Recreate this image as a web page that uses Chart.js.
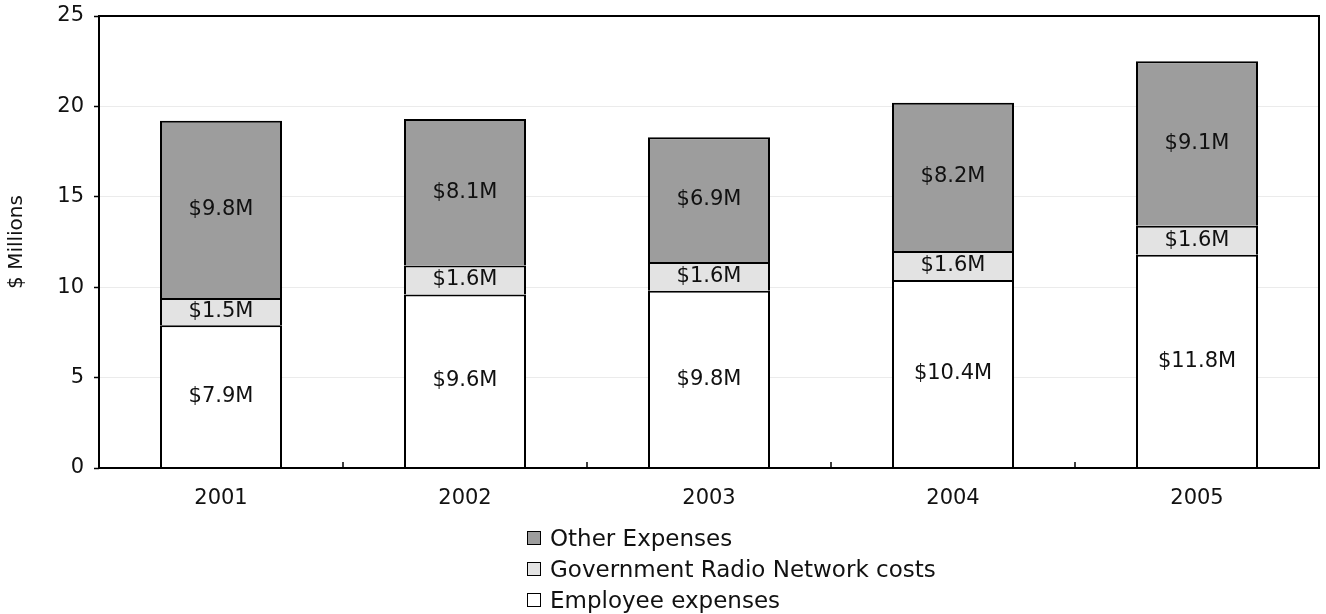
<!DOCTYPE html>
<html>
<head>
<meta charset="utf-8">
<script src="https://cdn.jsdelivr.net/npm/chart.js@4/dist/chart.umd.min.js"></script>
<style>
    body { margin: 0; background: #fff; }
    #wrap { position: relative; width: 1326px; height: 614px; }
    #legend {
        position: absolute; left: 527px; top: 522px;
        font-family: "DejaVu Sans", Verdana, sans-serif; font-size: 23px; color: #111;
    }
    .item { display: flex; align-items: center; height: 31px; }
    .box { width: 12px; height: 12px; border: 1.5px solid #000; margin-right: 9px; }
</style>
</head>
<body>
<div id="wrap">
    <canvas id="costs"></canvas>
    <div id="legend"></div>
</div>
<script>
// Expense breakdown per year, $ millions
const years = ['2001', '2002', '2003', '2004', '2005'];
const employeeExpenses = [7.9, 9.6, 9.8, 10.4, 11.8];
const radioNetworkCosts = [1.5, 1.6, 1.6, 1.6, 1.6];
const otherExpenses = [9.8, 8.1, 6.9, 8.2, 9.1];
const yMax = 25;
const yStep = 5;

const FONT = '"DejaVu Sans", Verdana, sans-serif';

// Box around the plot area plus inward ticks between categories
const framePlugin = {
    id: 'frame',
    afterDatasetsDraw(chart) {
        const { ctx, chartArea: a, scales: { x } } = chart;
        ctx.save();
        ctx.strokeStyle = '#000';
        ctx.lineWidth = 2;
        ctx.strokeRect(a.left, a.top, a.right - a.left, a.bottom - a.top);
        ctx.lineWidth = 1.5;
        ctx.beginPath();
        for (let i = 0; i < years.length - 1; i++) {
            const bx = (x.getPixelForValue(i) + x.getPixelForValue(i + 1)) / 2;
            ctx.moveTo(bx, a.bottom);
            ctx.lineTo(bx, a.bottom - 6);
        }
        ctx.stroke();
        ctx.restore();
    }
};

// Value label in the middle of each stacked segment
const segmentLabels = {
    id: 'segmentLabels',
    afterDatasetsDraw(chart) {
        const { ctx } = chart;
        ctx.save();
        ctx.font = '21px ' + FONT;
        ctx.fillStyle = '#111';
        ctx.textAlign = 'center';
        ctx.textBaseline = 'middle';
        chart.data.datasets.forEach((ds, di) => {
            chart.getDatasetMeta(di).data.forEach((bar, i) => {
                const v = ds.data[i];
                ctx.fillText('$' + v.toFixed(1) + 'M', bar.x, (bar.y + bar.base) / 2);
            });
        });
        ctx.restore();
    }
};

const chart = new Chart(document.getElementById('costs'), {
    type: 'bar',
    data: {
        labels: years,
        datasets: [
            { label: 'Employee expenses', data: employeeExpenses, backgroundColor: '#ffffff' },
            { label: 'Government Radio Network costs', data: radioNetworkCosts, backgroundColor: '#e3e3e3' },
            { label: 'Other Expenses', data: otherExpenses, backgroundColor: '#9d9d9d' }
        ].map(d => Object.assign(d, {
            borderColor: '#000',
            // no bottom edge so stacked segments share a single line
            borderWidth: { top: 2, left: 2, right: 2, bottom: 0 },
            borderSkipped: false,
            categoryPercentage: 1,
            barPercentage: 0.5
        }))
    },
    options: {
        responsive: true,
        maintainAspectRatio: false,
        animation: false,
        layout: { padding: { left: 0, top: 16, right: 7, bottom: 96 } },
        plugins: {
            legend: { display: false },
            tooltip: { enabled: false }
        },
        scales: {
            x: {
                stacked: true,
                grid: { display: false, drawTicks: false },
                border: { display: false },
                ticks: { color: '#111', padding: 18, font: { family: FONT, size: 21 } },
                afterFit: s => { s.height = 50; }
            },
            y: {
                stacked: true,
                min: 0,
                max: yMax,
                grid: { color: '#ebebeb', lineWidth: 1, tickLength: 5, tickColor: '#000', tickWidth: 1.5 },
                border: { display: false },
                ticks: { stepSize: yStep, color: '#111', padding: 10, font: { family: FONT, size: 21 } },
                title: {
                    display: true,
                    text: '$ Millions',
                    color: '#111',
                    padding: { top: 5, bottom: 0 },
                    font: { family: FONT, size: 20 }
                },
                afterFit: s => {
                    s.width = 99;
                    s.paddingTop = 0;
                    s.paddingBottom = 0;
                }
            }
        }
    },
    plugins: [framePlugin, segmentLabels]
});

// Legend, top item is the top of the stack
const legendEl = document.getElementById('legend');
chart.data.datasets.slice().reverse().forEach(ds => {
    const row = document.createElement('div');
    row.className = 'item';
    const box = document.createElement('span');
    box.className = 'box';
    box.style.background = ds.backgroundColor;
    row.appendChild(box);
    row.appendChild(document.createTextNode(ds.label));
    legendEl.appendChild(row);
});
</script>
</body>
</html>
